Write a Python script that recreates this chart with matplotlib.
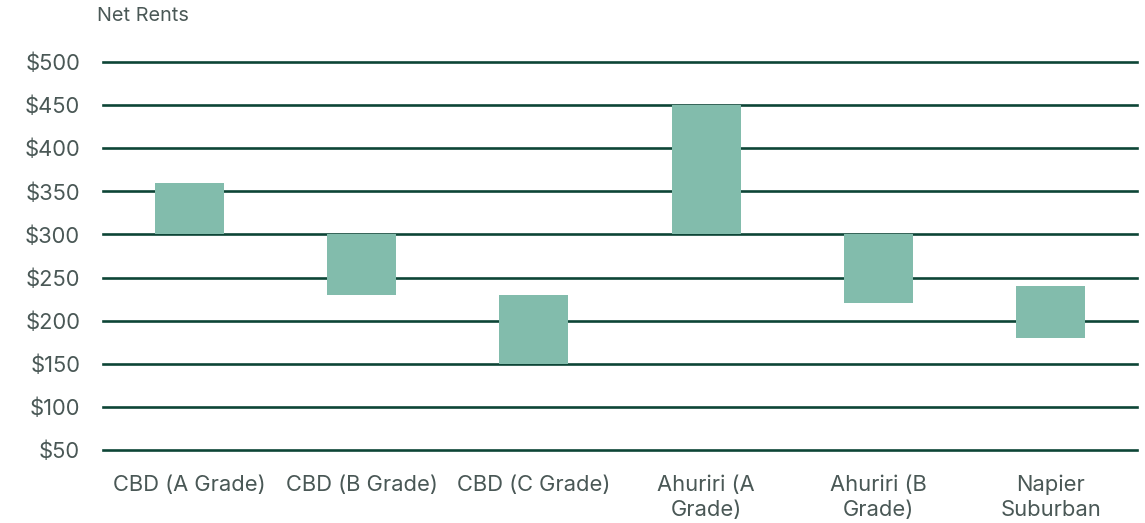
import matplotlib.pyplot as plt

plt.rcParams['font.family'] = ['Inter', 'DejaVu Sans']

# floating bars: low / high net rent per category
categories = ['CBD (A Grade)', 'CBD (B Grade)', 'CBD (C Grade)',
              'Ahuriri (A\nGrade)', 'Ahuriri (B\nGrade)', 'Napier\nSuburban']
low = [300, 230, 150, 300, 220, 180]
high = [360, 300, 230, 450, 300, 240]
yticks = [50, 100, 150, 200, 250, 300, 350, 400, 450, 500]

txt = '#4a5856'
grid = '#0d4536'
bar_col = '#82bcac'

fig = plt.figure(figsize=(11.45, 5.23), dpi=100)
ax = fig.add_axes([0.09, 0.1396, 0.903, 0.7419])

for y in yticks:
    ax.axhline(y, color=grid, lw=1.9, zorder=1, clip_on=False)

x = list(range(len(categories)))
heights = [h - l for h, l in zip(high, low)]
ax.bar(x, heights, bottom=low, width=0.4, color=bar_col, zorder=3)

ax.set_xlim(-0.5, len(categories) - 0.5)
ax.set_ylim(50, 500)
ax.set_yticks(yticks)
ax.set_yticklabels(['$' + str(v) for v in yticks])
ax.set_xticks(x)
ax.set_xticklabels(categories, linespacing=1.3)
ax.tick_params(axis='both', length=0, labelsize=15.8, colors=txt)
ax.tick_params(axis='y', pad=16.5)
ax.tick_params(axis='x', pad=18)
for s in ax.spines.values():
    s.set_visible(False)

fig.text(0.085, 0.97, 'Net Rents', fontsize=14.3, color=txt, va='center', ha='left')

fig.savefig('out.png', dpi=100)
